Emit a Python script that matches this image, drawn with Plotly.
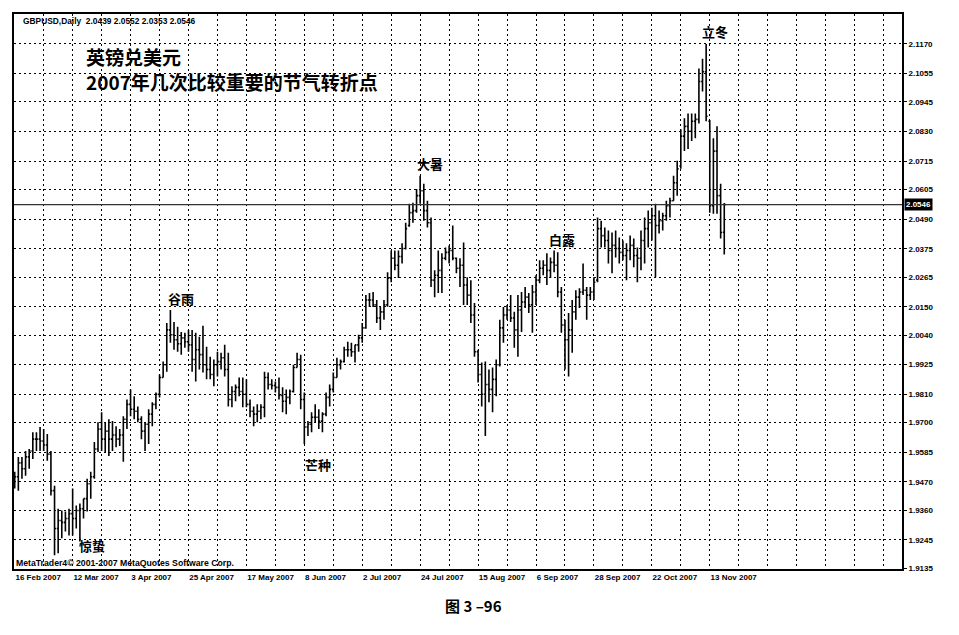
import plotly.graph_objects as go

symbol = "GBPUSD,Daily"

opens = [
    1.9459, 1.9490, 1.9544, 1.9521, 1.9567, 1.9590, 1.9636, 1.9636, 1.9629, 1.9613,
    1.9578, 1.9436, 1.9289, 1.9320, 1.9313, 1.9328, 1.9347, 1.9328, 1.9359, 1.9366,
    1.9405, 1.9463, 1.9490, 1.9598, 1.9675, 1.9636, 1.9667, 1.9636, 1.9652, 1.9636,
    1.9652, 1.9713, 1.9771, 1.9752, 1.9744, 1.9713, 1.9667, 1.9694, 1.9733, 1.9771,
    1.9810, 1.9875, 1.9925, 2.0060, 2.0041, 2.0022, 2.0006, 2.0029, 2.0014, 2.0002,
    1.9945, 1.9983, 1.9964, 1.9925, 1.9906, 1.9887, 1.9925, 1.9937, 1.9952, 1.9906,
    1.9790, 1.9821, 1.9837, 1.9821, 1.9810, 1.9771, 1.9744, 1.9733, 1.9744, 1.9760,
    1.9875, 1.9848, 1.9844, 1.9837, 1.9806, 1.9783, 1.9798, 1.9821, 1.9914, 1.9945,
    1.9790, 1.9683, 1.9694, 1.9721, 1.9721, 1.9706, 1.9733, 1.9798, 1.9829, 1.9875,
    1.9925, 1.9937, 1.9983, 1.9983, 1.9975, 2.0002, 2.0029, 2.0068, 2.0176, 2.0176,
    2.0157, 2.0106, 2.0130, 2.0157, 2.0261, 2.0338, 2.0311, 2.0345, 2.0376, 2.0465,
    2.0515, 2.0523, 2.0581, 2.0600, 2.0523, 2.0476, 2.0253, 2.0272, 2.0291, 2.0338,
    2.0361, 2.0368, 2.0338, 2.0299, 2.0311, 2.0234, 2.0195, 2.0118, 1.9975, 1.9887,
    1.9810, 1.9848, 1.9829, 1.9868, 1.9925, 2.0068, 2.0118, 2.0137, 2.0106, 2.0060,
    2.0137, 2.0168, 2.0187, 2.0157, 2.0207, 2.0253, 2.0299, 2.0311, 2.0291, 2.0322,
    2.0311, 2.0207, 2.0079, 2.0022, 2.0060, 2.0130, 2.0187, 2.0207, 2.0214, 2.0195,
    2.0207, 2.0253, 2.0453, 2.0426, 2.0407, 2.0368, 2.0388, 2.0376, 2.0361, 2.0349,
    2.0368, 2.0388, 2.0349, 2.0338, 2.0407, 2.0453, 2.0476, 2.0503, 2.0465, 2.0484,
    2.0503, 2.0542, 2.0561, 2.0631, 2.0696, 2.0812, 2.0850, 2.0831, 2.0870, 2.0877,
    2.1024, 2.1062, 2.0870, 2.0542, 2.0754, 2.0581, 2.0439,
]

highs = [
    1.9509, 1.9567, 1.9567, 1.9590, 1.9598, 1.9663, 1.9663, 1.9683, 1.9675, 1.9656,
    1.9590, 1.9455, 1.9366, 1.9359, 1.9355, 1.9366, 1.9444, 1.9378, 1.9386, 1.9405,
    1.9482, 1.9509, 1.9625, 1.9702, 1.9740, 1.9702, 1.9713, 1.9706, 1.9686, 1.9675,
    1.9725, 1.9790, 1.9829, 1.9802, 1.9763, 1.9725, 1.9702, 1.9752, 1.9779, 1.9817,
    1.9887, 1.9937, 2.0087, 2.0137, 2.0091, 2.0072, 2.0052, 2.0049, 2.0060, 2.0060,
    2.0049, 2.0033, 2.0076, 1.9995, 1.9956, 1.9945, 1.9975, 1.9971, 2.0002, 1.9971,
    1.9841, 1.9848, 1.9875, 1.9875, 1.9868, 1.9790, 1.9763, 1.9771, 1.9771, 1.9898,
    1.9895, 1.9868, 1.9860, 1.9875, 1.9837, 1.9829, 1.9829, 1.9925, 1.9971, 1.9964,
    1.9817, 1.9706, 1.9740, 1.9771, 1.9752, 1.9740, 1.9817, 1.9848, 1.9895, 1.9952,
    1.9945, 1.9995, 2.0014, 2.0010, 2.0002, 2.0041, 2.0087, 2.0195, 2.0203, 2.0207,
    2.0176, 2.0149, 2.0176, 2.0284, 2.0368, 2.0368, 2.0368, 2.0396, 2.0476, 2.0550,
    2.0553, 2.0607, 2.0658, 2.0627, 2.0561, 2.0496, 2.0291, 2.0368, 2.0357, 2.0380,
    2.0388, 2.0465, 2.0341, 2.0338, 2.0399, 2.0264, 2.0253, 2.0164, 1.9983, 1.9933,
    1.9937, 1.9906, 1.9914, 1.9945, 2.0099, 2.0149, 2.0157, 2.0195, 2.0130, 2.0195,
    2.0207, 2.0226, 2.0203, 2.0234, 2.0272, 2.0330, 2.0330, 2.0357, 2.0341, 2.0368,
    2.0361, 2.0226, 2.0099, 2.0126, 2.0176, 2.0214, 2.0222, 2.0318, 2.0226, 2.0226,
    2.0264, 2.0496, 2.0484, 2.0457, 2.0446, 2.0438, 2.0446, 2.0419, 2.0407, 2.0396,
    2.0426, 2.0415, 2.0380, 2.0446, 2.0496, 2.0523, 2.0534, 2.0550, 2.0523, 2.0515,
    2.0561, 2.0573, 2.0658, 2.0716, 2.0839, 2.0881, 2.0900, 2.0900, 2.0900, 2.1074,
    2.1112, 2.1170, 2.0875, 2.0804, 2.0850, 2.0627, 2.0552,
]

lows = [
    1.9444, 1.9436, 1.9482, 1.9494, 1.9521, 1.9559, 1.9590, 1.9590, 1.9590, 1.9552,
    1.9417, 1.9185, 1.9193, 1.9251, 1.9278, 1.9262, 1.9262, 1.9289, 1.9239, 1.9328,
    1.9355, 1.9405, 1.9482, 1.9586, 1.9590, 1.9586, 1.9571, 1.9590, 1.9605, 1.9609,
    1.9548, 1.9675, 1.9725, 1.9713, 1.9702, 1.9636, 1.9590, 1.9617, 1.9686, 1.9752,
    1.9798, 1.9875, 1.9898, 2.0010, 1.9983, 1.9975, 1.9964, 1.9991, 1.9975, 1.9898,
    1.9860, 1.9906, 1.9895, 1.9868, 1.9868, 1.9841, 1.9879, 1.9906, 1.9879, 1.9763,
    1.9760, 1.9783, 1.9802, 1.9760, 1.9760, 1.9721, 1.9686, 1.9702, 1.9713, 1.9721,
    1.9829, 1.9829, 1.9817, 1.9790, 1.9740, 1.9733, 1.9771, 1.9817, 1.9914, 1.9752,
    1.9617, 1.9648, 1.9663, 1.9702, 1.9675, 1.9663, 1.9725, 1.9763, 1.9817, 1.9875,
    1.9906, 1.9933, 1.9956, 1.9956, 1.9933, 1.9975, 2.0010, 2.0064, 2.0149, 2.0149,
    2.0087, 2.0060, 2.0099, 2.0150, 2.0245, 2.0291, 2.0261, 2.0318, 2.0372, 2.0460,
    2.0476, 2.0515, 2.0550, 2.0484, 2.0457, 2.0226, 2.0187, 2.0203, 2.0203, 2.0330,
    2.0318, 2.0330, 2.0280, 2.0226, 2.0157, 2.0157, 2.0087, 1.9956, 1.9856, 1.9763,
    1.9648, 1.9779, 1.9740, 1.9802, 1.9918, 2.0010, 2.0099, 2.0091, 1.9991, 1.9956,
    2.0052, 2.0145, 2.0126, 2.0049, 2.0157, 2.0241, 2.0272, 2.0234, 2.0261, 2.0284,
    2.0187, 2.0049, 1.9906, 1.9879, 1.9971, 2.0099, 2.0145, 2.0195, 2.0099, 2.0176,
    2.0176, 2.0245, 2.0380, 2.0380, 2.0318, 2.0280, 2.0341, 2.0318, 2.0330, 2.0253,
    2.0330, 2.0303, 2.0245, 2.0291, 2.0318, 2.0380, 2.0407, 2.0264, 2.0434, 2.0446,
    2.0484, 2.0496, 2.0561, 2.0581, 2.0685, 2.0754, 2.0762, 2.0793, 2.0804, 2.0861,
    2.0985, 2.0870, 2.0515, 2.0511, 2.0511, 2.0415, 2.0353,
]

closes = [
    1.9490, 1.9544, 1.9521, 1.9567, 1.9590, 1.9636, 1.9636, 1.9629, 1.9613, 1.9578,
    1.9436, 1.9289, 1.9320, 1.9313, 1.9328, 1.9347, 1.9328, 1.9359, 1.9366, 1.9405,
    1.9463, 1.9490, 1.9598, 1.9675, 1.9636, 1.9667, 1.9636, 1.9652, 1.9636, 1.9652,
    1.9713, 1.9771, 1.9752, 1.9744, 1.9713, 1.9667, 1.9694, 1.9733, 1.9771, 1.9810,
    1.9875, 1.9925, 2.0060, 2.0041, 2.0022, 2.0006, 2.0029, 2.0014, 2.0002, 1.9945,
    1.9983, 1.9964, 1.9925, 1.9906, 1.9887, 1.9925, 1.9937, 1.9952, 1.9906, 1.9790,
    1.9821, 1.9837, 1.9821, 1.9810, 1.9771, 1.9744, 1.9733, 1.9744, 1.9760, 1.9875,
    1.9848, 1.9844, 1.9837, 1.9806, 1.9783, 1.9798, 1.9821, 1.9914, 1.9945, 1.9790,
    1.9683, 1.9694, 1.9721, 1.9721, 1.9706, 1.9733, 1.9798, 1.9829, 1.9875, 1.9925,
    1.9937, 1.9983, 1.9983, 1.9975, 2.0002, 2.0029, 2.0068, 2.0176, 2.0176, 2.0157,
    2.0106, 2.0130, 2.0157, 2.0261, 2.0338, 2.0311, 2.0345, 2.0376, 2.0453, 2.0515,
    2.0523, 2.0581, 2.0600, 2.0523, 2.0476, 2.0253, 2.0272, 2.0291, 2.0338, 2.0361,
    2.0368, 2.0338, 2.0299, 2.0311, 2.0234, 2.0195, 2.0118, 1.9975, 1.9887, 1.9810,
    1.9848, 1.9829, 1.9868, 1.9925, 2.0068, 2.0118, 2.0137, 2.0106, 2.0060, 2.0137,
    2.0168, 2.0187, 2.0157, 2.0207, 2.0253, 2.0299, 2.0311, 2.0291, 2.0322, 2.0311,
    2.0207, 2.0079, 2.0022, 2.0060, 2.0130, 2.0187, 2.0207, 2.0214, 2.0195, 2.0207,
    2.0245, 2.0453, 2.0426, 2.0407, 2.0368, 2.0388, 2.0376, 2.0361, 2.0349, 2.0368,
    2.0388, 2.0349, 2.0338, 2.0407, 2.0453, 2.0476, 2.0503, 2.0465, 2.0484, 2.0503,
    2.0542, 2.0561, 2.0631, 2.0685, 2.0812, 2.0850, 2.0831, 2.0870, 2.0877, 2.1024,
    2.1062, 2.0889, 2.0542, 2.0754, 2.0581, 2.0438, 2.0546,
]

# date labels, one every 16 trading days starting with the first bar
date_labels = [
    "16 Feb 2007", "12 Mar 2007", "3 Apr 2007", "25 Apr 2007", "17 May 2007",
    "8 Jun 2007", "2 Jul 2007", "24 Jul 2007", "15 Aug 2007", "6 Sep 2007",
    "28 Sep 2007", "22 Oct 2007", "13 Nov 2007",
]
price_ticks = [
    2.1170, 2.1055, 2.0945, 2.0830, 2.0715, 2.0605, 2.0490, 2.0375, 2.0265, 2.0150,
    2.0040, 1.9925, 1.9810, 1.9700, 1.9585, 1.9470, 1.9360, 1.9245, 1.9135,
]

term_names = ["惊蛰", "谷雨", "芒种", "大暑", "白露", "立冬"]
term_bars = [11, 43, 80, 112, 149, 191]
term_at = ["low", "high", "low", "high", "high", "high"]

title_lines = ["英镑兑美元", "2007年几次比较重要的节气转折点"]
copyright_text = "MetaTrader4© 2001-2007 MetaQuotes Software Corp."
caption = "图 3 –96"

LABEL_STEP = 16
GRID_STEP = 8
N_SLOTS = 245

x = list(range(len(closes)))

fig = go.Figure(
    go.Ohlc(
        x=x, open=opens, high=highs, low=lows, close=closes,
        increasing=dict(line=dict(color="black", width=1.6)),
        decreasing=dict(line=dict(color="black", width=1.6)),
        tickwidth=0.4, hoverinfo="skip", showlegend=False,
    )
)

tickvals = list(range(0, N_SLOTS, GRID_STEP))
ticktext = []
for v in tickvals:
    k = v // LABEL_STEP
    if v % LABEL_STEP == 0 and k < len(date_labels):
        ticktext.append(date_labels[k])
    else:
        ticktext.append("")

lab_font = dict(family="Liberation Sans", size=8, color="black", weight="bold")
cjk = "Noto Sans CJK SC"

# page body adds an 8px offset, so the figure is 8px smaller with margins shifted
fig.update_layout(
    width=951, height=627,
    margin=dict(l=6, r=57, t=4, b=66),
    paper_bgcolor="white", plot_bgcolor="white",
    font=dict(family="Liberation Sans", color="black"),
    showlegend=False,
)
fig.update_xaxes(
    range=[-0.2, N_SLOTS + 0.1], tickmode="array", tickvals=tickvals, ticktext=ticktext,
    showgrid=True, gridcolor="black", griddash="2px,3px", gridwidth=1,
    showline=True, linecolor="black", linewidth=1.5, mirror=True,
    ticks="", ticklabelposition="outside right", tickfont=lab_font,
    rangeslider=dict(visible=False), zeroline=False,
)
fig.update_yaxes(
    side="right", range=[1.9132, 2.1286], tickmode="array", tickvals=price_ticks,
    ticktext=[f"{v:.4f}" for v in price_ticks],
    showgrid=True, gridcolor="black", griddash="2px,3px", gridwidth=1,
    showline=True, linecolor="black", linewidth=1.8, mirror=True,
    ticks="outside", ticklen=3, tickcolor="black", tickfont=lab_font, zeroline=False,
)

# current price line and label
last = closes[-1]
fig.add_shape(type="line", xref="paper", x0=0, x1=1, yref="y", y0=last, y1=last,
              line=dict(color="#333333", width=1.2))
fig.add_annotation(xref="paper", x=1, xanchor="left", xshift=2, yref="y", y=last,
                   text=f"{last:.4f}", showarrow=False, bgcolor="black",
                   font=dict(family="Liberation Sans", size=8, color="white", weight="bold"),
                   borderpad=1)

# header
fig.add_annotation(
    xref="paper", yref="paper", x=0.0079, y=0.9874, xanchor="left", yanchor="middle",
    text=f"{symbol}  {opens[-1]:.4f} {highs[-1]:.4f} {lows[-1]:.4f} {closes[-1]:.4f}",
    showarrow=False, font=dict(family="Liberation Sans", size=8.4, color="black", weight="bold"),
)
# copyright
fig.add_annotation(
    xref="paper", yref="paper", x=0.0, y=0.0108, xanchor="left", yanchor="middle",
    text=copyright_text, showarrow=False,
    font=dict(family="Liberation Sans", size=8.7, color="black", weight="bold"),
)
# title (two lines in one text block)
fig.add_annotation(xref="paper", yref="paper", x=0.080, y=0.9004, xanchor="left",
                   yanchor="middle", align="left", text="<br>".join(title_lines),
                   showarrow=False, borderpad=0,
                   font=dict(family=cjk, size=19, color="black", weight="bold"))
# caption
fig.add_annotation(xref="paper", yref="paper", x=0.517, y=-0.0664, xanchor="center",
                   yanchor="middle", text=caption, showarrow=False,
                   font=dict(family=cjk, size=15, color="black", weight="bold"))

# solar term labels
term_style = {
    "惊蛰": dict(xshift=37, yshift=10, yanchor="middle"),
    "谷雨": dict(xshift=11, yshift=0, yanchor="bottom"),
    "芒种": dict(xshift=14, yshift=-9, yanchor="top"),
    "大暑": dict(xshift=10, yshift=1, yanchor="bottom"),
    "白露": dict(xshift=8, yshift=0, yanchor="bottom"),
    "立冬": dict(xshift=9, yshift=1, yanchor="bottom"),
}
for name, b, at in zip(term_names, term_bars, term_at):
    yv = highs[b] if at == "high" else lows[b]
    st = term_style[name]
    fig.add_annotation(x=b, y=yv, xanchor="center", showarrow=False, text=name,
                       font=dict(family=cjk, size=13, color="black", weight="bold"),
                       **st)

fig.write_html("out.html")
